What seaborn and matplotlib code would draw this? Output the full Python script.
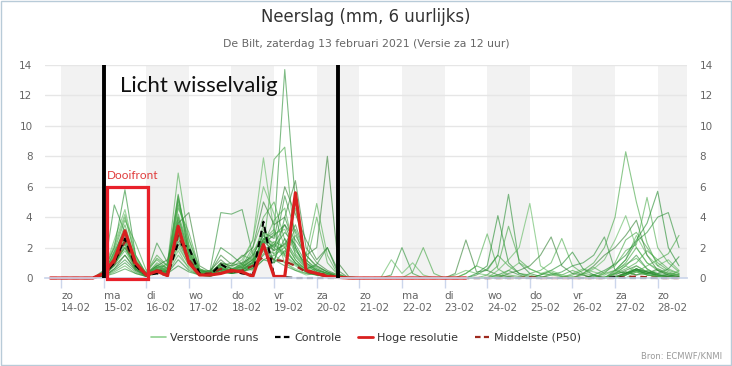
# plot.py
# Neerslag pluim De Bilt (ECMWF ensemble), 6-uurlijks

import pandas as pd
import numpy as np
import matplotlib
matplotlib.use('Agg')
import matplotlib.pyplot as plt
import matplotlib.dates as mdates
from matplotlib.lines import Line2D
from matplotlib.patches import Rectangle
import seaborn as sns

# --- data -------------------------------------------------------------
# 6-hourly steps from 13-02 18:00 up to 28-02 12:00 (60 steps)
start_time = '2021-02-13 18:00'
n_steps = 60

# perturbed ensemble runs (mm per 6 h)
members = [
    [0, 0,0,0,0, 0.1,0.8,2.2,0.6, 0.1,0.3,0.5,2.8, 1.0,0.2,0.1,0.4, 0.3,0.5,1.0,2.5, 3.0,13.7,5.0,1.0, 0.5,0.3,0.1,0, 0,0,0,0.2, 2.0,0.3,0,0, 0,0,0,0, 0,0.2,0.5,0.2, 0,0,0,0, 0,0,0.1,0, 0.3,0.8,1.5,0.6, 0.2,0.1,0],
    [0, 0,0,0,0, 0.2,1.5,3.5,1.2, 0.3,1.3,0.8,4.2, 2.0,0.5,0.3,1.0, 0.8,1.5,1.2,2.0, 7.8,8.6,2.0,0.8, 0.4,0.2,0,0, 0,0,0,0, 0,0.4,2.0,0.3, 0,0,0.3,0.8, 0.5,1.5,0.8,0.3, 0.2,0,0.3,0.2, 0.5,0.2,0,0.3, 1.0,2.5,3.0,2.0, 1.0,0.5,0.3],
    [0, 0,0,0,0, 0.4,2.5,4.5,1.5, 0.3,0.8,0.5,5.0, 1.8,0.4,0.2,0.6, 0.5,1.0,2.5,7.9, 3.0,1.0,0.5,0.2, 0.3,0.1,0,0, 0,0,0,1.2, 0.3,1.0,0.2,0, 0,0.2,0.5,0.3, 0.2,0.1,0,0, 0,0,0,0, 0.3,0.6,0.4,0.2, 0.5,1.2,2.8,1.5, 0.8,1.2,0.5],
    [0, 0,0,0,0, 0.2,1.0,2.0,0.8, 0.2,0.6,0.4,3.5, 1.2,0.3,0.5,1.2, 0.6,0.4,0.8,1.5, 2.2,3.5,2.5,1.5, 2.0,8.0,1.0,0.1, 0,0,0,0, 0,0,0,0, 0,0.3,2.5,0.4, 0.5,0.2,0.1,0, 0,0,0,0, 0,0,0,0, 0.2,0.5,0.8,0.4, 0.1,0,0],
    [0, 0,0,0,0, 0.1,0.9,2.0,0.6, 0.1,0.4,1.0,6.9, 2.5,0.6,0.3,0.8, 1.0,0.7,0.5,1.2, 1.5,2.0,1.0,0.6, 0.8,0.4,0.1,0, 0,0,0,0, 0,0,0,0, 0,0,0.3,0.8, 2.9,0.6,0.2,0.1, 0,0.2,0.4,0.1, 0,0,0,0, 0,0.2,0.6,0.3, 0.5,0.2,0.1],
    [0, 0,0,0,0, 0.5,2.0,5.8,1.5, 0.2,0.7,0.6,3.0, 1.0,0.3,0.4,2.0, 1.5,0.9,0.6,3.0, 1.0,4.0,2.0,0.6, 0.3,0.2,0.1,0, 0,0,0,0, 0,0,0,0, 0,0,0,0.3, 0.8,4.1,1.0,0.3, 0.1,0,0,0, 0,0,0,0, 0.3,0.4,0.2,0.5, 0.3,0.6,1.4],
    [0, 0,0,0,0, 0.3,4.8,3.0,1.0, 0.2,2.3,1.0,5.5, 1.5,0.4,0.5,4.3, 4.2,4.5,1.5,2.0, 1.2,0.8,0.5,0.3, 0.2,0.1,0,0, 0,0,0,0, 0,0,0,0, 0,0,0,0.2, 0.6,1.5,5.5,1.0, 0.3,0.1,0,0, 0,0,0.2,0, 0,0.3,0.5,0.2, 0.1,0,0],
    [0, 0,0,0,0, 0.2,1.8,3.8,2.3, 0.5,1.2,0.6,4.6, 3.0,0.6,0.3,0.5, 0.4,0.8,2.0,4.0, 5.0,2.5,1.2,0.5, 0.3,0.2,0,0, 0,0,0,0, 0,0,0,0, 0,0,0,0, 0.2,0.8,3.4,1.2, 0.6,0.3,0.2,0.1, 0,0,0,0, 0.4,1.0,2.0,1.0, 0.5,0.3,0.2],
    [0, 0,0,0,0, 0.2,1.2,2.5,0.7, 0.3,0.9,0.4,2.2, 0.8,0.3,0.2,0.9, 0.7,1.2,2.5,6.0, 4.2,2.0,1.0,0.4, 0.6,0.3,0.1,0, 0,0,0,0, 0,0,0,0, 0,0,0,0, 0,0.5,1.2,2.0, 4.9,0.8,0.3,0.1, 0,0,0,0, 0.1,0.3,0.8,0.4, 0.2,0.1,0.5],
    [0, 0,0,0,0, 0.1,0.6,1.5,0.5, 0.2,0.5,0.3,3.8, 1.6,0.5,0.4,1.5, 0.9,1.4,2.0,5.0, 3.5,4.0,6.4,2.0, 1.0,0.5,0.2,0, 0,0,0,0, 0,0,0,0, 0,0,0,0, 0,0,0.3,0.5, 0.8,1.5,2.7,0.8, 0.3,0.2,0,0, 0,0.4,0.2,0.3, 0.6,0.3,0.2],
    [0, 0,0,0,0, 0.3,1.6,3.0,0.9, 0.2,0.6,0.3,1.5, 0.7,0.2,0.2,0.6, 0.5,0.6,1.8,2.5, 3.2,1.5,2.8,1.5, 4.9,1.5,0.2,0, 0,0,0,0, 0,0,0,0, 0,0,0,0, 0,0.2,0.1,0, 0.3,0.5,1.0,2.6, 0.8,0.3,0.2,0.1, 0,0,0.4,0.8, 1.2,0.6,0.3],
    [0, 0,0,0,0, 0.2,1.4,2.8,0.8, 0.3,0.8,0.7,5.2, 2.2,0.5,0.3,0.7, 0.3,0.5,0.9,2.3, 2.8,3.5,1.8,0.9, 0.4,0.2,0.1,0, 0,0,0,0, 0,0,0,0, 0,0,0,0, 0,0,0,0, 0,0.2,0.5,0.9, 1.7,0.6,0.2,0, 0,0.2,0.5,0.3, 0.2,0.1,0],
    [0, 0,0,0,0, 0.1,0.5,1.0,0.4, 0.1,0.4,0.5,2.6, 1.1,0.3,0.2,0.4, 0.6,0.9,1.5,2.8, 1.8,5.4,3.0,1.2, 0.6,0.3,0.1,0, 0,0,0,0, 0,0,0,0, 0,0,0,0, 0,0,0,0, 0,0,0.2,0.4, 0.8,1.0,1.5,2.7, 0.5,0.3,0.6,0.2, 0.1,0,0],
    [0, 0,0,0,0, 0.2,0.9,1.8,0.6, 0.2,1.0,0.6,4.0, 1.8,0.4,0.3,0.8, 0.5,0.4,0.7,1.6, 2.4,2.0,3.2,1.5, 0.7,0.4,0.2,0, 0,0,0,0, 0,0,0,0, 0,0,0,0, 0,0,0,0, 0,0,0,0, 0.2,0.5,1.0,2.0, 4.0,8.3,5.0,2.3, 0.8,0.4,0.2],
    [0, 0,0,0,0, 0.4,2.2,4.2,1.3, 0.2,0.5,0.4,1.8, 0.6,0.2,0.2,0.5, 0.4,0.7,1.2,3.5, 1.5,1.0,0.6,0.3, 0.2,0.1,0,0, 0,0,0,0, 0,0,0,0, 0,0,0,0, 0,0,0,0, 0,0,0,0, 0,0.2,0.6,1.2, 2.5,4.1,2.0,1.0, 0.6,0.3,0.2],
    [0, 0,0,0,0, 0.2,1.3,2.5,0.9, 0.3,0.6,0.5,3.2, 1.4,0.3,0.3,1.0, 0.8,1.0,1.4,3.0, 2.6,6.0,4.2,2.5, 1.2,2.0,0.5,0, 0,0,0,0, 0,0,0,0, 0,0,0,0, 0,0,0,0, 0,0,0,0, 0,0.3,0.8,1.5, 2.0,2.8,3.8,1.5, 0.5,0.2,0.1],
    [0, 0,0,0,0, 0.1,0.4,0.8,0.3, 0.1,0.7,0.9,4.8, 2.6,0.6,0.4,0.9, 0.6,0.8,1.0,2.2, 3.8,4.6,1.5,0.7, 0.3,0.2,0.1,0, 0,0,0,0, 0,0,0,0, 0,0,0,0, 0,0,0,0, 0,0,0,0, 0,0,0,0.4, 0.8,1.8,2.2,5.3, 2.0,1.0,0.4],
    [0, 0,0,0,0, 0.3,1.7,3.2,1.1, 0.2,0.4,0.3,1.2, 0.5,0.2,0.1,0.4, 0.3,0.4,0.8,1.8, 1.2,2.6,1.4,0.6, 0.9,2.0,0.3,0, 0,0,0,0, 0,0,0,0, 0,0,0,0, 0,0,0,0, 0,0,0,0, 0,0,0.2,0.5, 0.9,1.5,2.5,3.6, 5.7,2.0,0.8],
    [0, 0,0,0,0, 0.1,0.6,1.2,0.5, 0.1,0.5,0.4,3.0, 1.3,0.3,0.2,0.6, 0.4,0.6,1.0,2.6, 2.0,3.0,2.2,1.0, 0.5,0.3,0.1,0, 0,0,0,0, 0,0,0,0, 0,0,0,0, 0,0,0,0, 0,0,0,0, 0,0,0,0, 0.5,1.2,2.4,3.0, 4.0,4.3,2.0],
    [0, 0,0,0,0, 0.2,1.2,2.6,0.9, 0.4,1.5,0.8,5.4, 2.0,0.5,0.3,0.7, 0.5,0.8,1.2,2.0, 1.6,2.3,1.2,0.5, 0.3,0.2,0,0, 0,0,0,0, 0,0,0,0, 0,0,0,0, 0,0,0,0, 0,0,0,0, 0,0,0,0, 0.3,0.6,1.0,1.8, 1.2,1.6,2.8],
    [0, 0,0,0,0, 0.3,1.6,3.0,1.0, 0.2,0.5,0.6,2.0, 0.9,0.3,0.2,0.5, 0.4,0.5,1.6,3.2, 2.0,1.4,0.8,0.4, 0.3,0.2,0.1,0, 0,0,0,0, 0,0,0,0, 0,0,0,0, 0,0,0.5,1.0, 0.6,0.3,0.5,0.2, 0.1,0,0,0, 0.3,0.8,0.4,0.2, 0.1,0,0],
    [0, 0,0,0,0, 0.2,0.8,1.5,0.6, 0.2,0.8,1.2,3.6, 4.3,0.8,0.4,0.9, 0.6,0.7,1.2,2.4, 1.8,2.2,3.5,1.5, 0.8,0.4,0.1,0, 0,0,0,0, 0,0,0,0, 0,0,0,0, 0,0,0,0, 0,0,0,0, 0,0,0,0, 0.1,0.3,0.6,0.4, 0.2,0.1,0],
    [0, 0,0,0,0, 0.4,2.0,4.0,1.4, 0.3,0.6,0.5,3.6, 1.5,0.4,0.3,0.8, 0.5,0.9,1.3,2.2, 2.9,3.2,1.6,0.8, 4.0,1.0,0.2,0, 0,0,0,0, 0,0,0,0, 0,0,0,0, 0,0,0,0, 0,0,0,0, 0,0.3,0.7,0.3, 0.5,0.9,1.3,0.6, 0.2,0.1,0],
    [0, 0,0,0,0, 0.2,1.1,2.3,0.7, 0.2,0.4,0.3,0.8, 0.4,0.2,0.2,0.5, 0.3,0.4,0.6,1.2, 1.0,1.8,1.0,0.4, 0.2,0.1,0,0, 0,0,0,0, 0,0,0,0, 0,0,0,0, 0,0,0,0, 0,0,0,0, 0,0,0,0, 0,0.3,0.6,0.4, 0.3,0.2,0.1],
    [0, 0,0,0,0, 0.1,0.3,0.6,0.3, 0.1,0.5,0.4,2.4, 1.0,0.3,0.2,0.6, 0.4,0.5,1.1,1.9, 2.2,1.5,0.9,0.4, 0.2,0.1,0,0, 0,0,0,0, 0,0,0,0, 0,0,0,0, 0,0,0,0, 0,0,0,0, 0,0,0,0, 0,0.2,0.5,0.3, 0.2,0.1,0],
    [0, 0,0,0,0, 0.2,1.0,2.0,0.8, 0.3,0.7,0.5,4.0, 1.7,0.4,0.3,0.7, 0.5,0.6,1.0,2.6, 2.3,1.6,4.6,1.2, 0.5,0.3,0.1,0, 0,0,0,0, 0,0,0,0, 0,0,0,0, 0,0,0,0, 0,0,0,0, 0,0,0,0, 0,0.2,0.4,0.2, 0.1,0,0],
]

# control run (black dashed)
control = [0, 0,0,0,0, 0.2,1.0,2.6,0.8, 0.2,0.3,0.2,2.3, 2.0,0.3,0.2,0.9, 0.5,0.3,0.2,3.7, 0.1,0.05,0,0,
           0,0,0,0, 0,0,0,0, 0,0,0,0, 0,0,0,0, 0,0,0,0, 0,0,0,0, 0,0,0,0, 0.05,0,0,0, 0,0,0]

# high resolution run (red), runs to 23-02 12:00
hires = [0, 0,0,0,0, 0.3,1.2,3.1,1.0, 0.2,0.45,0.15,3.4, 1.0,0.2,0.2,0.3, 0.5,0.4,0.1,2.2, 0.1,0.1,5.6,0.5,
         0.3,0.1,0.05,0, 0,0,0,0, 0,0,0,0, 0,0,0]

# ensemble median P50 (dark red dashed)
median = [0, 0,0,0,0, 0.2,1.0,2.4,0.8, 0.2,0.5,0.4,2.8, 1.2,0.3,0.3,0.6, 0.4,0.5,0.8,1.4, 1.2,1.1,0.8,0.4,
          0.3,0.2,0.05,0, 0,0,0,0, 0,0,0,0, 0,0,0,0, 0,0,0,0, 0.05,0,0,0, 0,0,0,0, 0,0.05,0.1,0.05, 0,0,0]

day_names = ['zo', 'ma', 'di', 'wo', 'do', 'vr', 'za',
             'zo', 'ma', 'di', 'wo', 'do', 'vr', 'za', 'zo']

for m in members:
    assert len(m) == n_steps, len(m)
assert len(control) == n_steps and len(median) == n_steps and len(hires) == 40

# --- frames -----------------------------------------------------------
times = pd.date_range(start_time, periods=n_steps, freq='6h')
ens = pd.DataFrame({
    'time': np.tile(times, len(members)),
    'mm': np.concatenate(members),
    'member': np.repeat(np.arange(len(members)), n_steps),
})
ctrl_df = pd.DataFrame({'time': times, 'mm': control})
med_df = pd.DataFrame({'time': times, 'mm': median})
hres_df = pd.DataFrame({'time': times[:len(hires)], 'mm': hires})

# --- style ------------------------------------------------------------
sns.set_theme(style='white')
plt.rcParams['font.family'] = ['DejaVu Sans']

GREENS = ['#2a8f34', '#3fa43f', '#5cb85c', '#2f7f2f', '#4aab4a', '#1f8a2a']
C_CTRL = '#000000'
C_HRES = '#d9201f'
C_MED = '#9e2a1e'
GRAY_TXT = '#666666'

fig = plt.figure(figsize=(7.32, 3.66), dpi=100)
ax = fig.add_axes([0.0615, 0.2404, 0.877, 0.582])

# alternating day shading
days = pd.date_range('2021-02-14', '2021-02-28', freq='D')
for d in days[::2]:
    ax.axvspan(d, d + pd.Timedelta(days=1), color='#f2f2f2', zorder=0, lw=0)

palette = [GREENS[i % len(GREENS)] for i in range(len(members))]
sns.lineplot(data=ens, x='time', y='mm', hue='member', palette=palette,
             units='member', estimator=None, legend=False,
             lw=0.8, alpha=0.6, ax=ax, clip_on=False)
sns.lineplot(data=med_df, x='time', y='mm', color=C_MED, lw=1.6,
             linestyle=(0, (3, 2)), ax=ax, clip_on=False)
sns.lineplot(data=ctrl_df, x='time', y='mm', color=C_CTRL, lw=1.5,
             linestyle=(0, (3, 2)), ax=ax, clip_on=False)
sns.lineplot(data=hres_df, x='time', y='mm', color=C_HRES, lw=2.3,
             ax=ax, clip_on=False)

# period markers
period_edges = [pd.Timestamp('2021-02-15 00:00'), pd.Timestamp('2021-02-20 12:00')]
ax.vlines(period_edges, 0, 14, color='black', lw=2.8, zorder=6, clip_on=False)
ax.text(0.117, 0.90, 'Licht wisselvalig', transform=ax.transAxes,
        fontsize=16, family='Lato', color='#111111', va='center', ha='left')

# "Dooifront" box
x0 = mdates.date2num(pd.Timestamp('2021-02-15 02:00'))
x1 = mdates.date2num(pd.Timestamp('2021-02-16 01:00'))
ax.add_patch(Rectangle((x0, -0.05), x1 - x0, 6.05, fill=False,
                       edgecolor='#e8202a', lw=2.3, zorder=7, clip_on=False))
ax.text(x0, 6.35, 'Dooifront', color='#e03c3c', fontsize=8.5, family='Lato',
        ha='left', va='bottom')

# axes
ax.set_xlim(pd.Timestamp('2021-02-13 15:00'), pd.Timestamp('2021-02-28 16:30'))
ax.set_ylim(0, 14)
ax.set_yticks(range(0, 15, 2))
ax.yaxis.grid(True, color='#e6e6e6', lw=1)
ax.xaxis.grid(False)
ax.set_axisbelow(True)
ax.set_xlabel('')
ax.set_ylabel('')
for s in ['top', 'left', 'right']:
    ax.spines[s].set_visible(False)
ax.spines['bottom'].set_color('#ccd6eb')

ax.set_xticks(days)
ax.set_xticklabels([f'{n}\n{d:%d-%m}' for n, d in zip(day_names, days)],
                   linespacing=1.35)
for lab in ax.get_xticklabels():
    lab.set_horizontalalignment('left')
ax.tick_params(axis='x', length=7, width=1, color='#ccd6eb', pad=2,
               labelsize=7.5, labelcolor=GRAY_TXT, bottom=True)
ax.tick_params(axis='y', length=0, pad=9, labelsize=7.5, labelcolor=GRAY_TXT)

ax2 = ax.twinx()
ax2.set_ylim(0, 14)
ax2.set_yticks(range(0, 15, 2))
ax2.tick_params(axis='y', length=0, pad=9, labelsize=7.5, labelcolor=GRAY_TXT)
ax2.grid(False)
for s in ax2.spines.values():
    s.set_visible(False)

# titles
fig.text(0.5, 1 - 17 / 366, 'Neerslag (mm, 6 uurlijks)', ha='center', va='center',
         fontsize=11.9, color='#333333')
fig.text(0.5, 1 - 44 / 366, 'De Bilt, zaterdag 13 februari 2021 (Versie za 12 uur)',
         ha='center', va='center', fontsize=7.8, color=GRAY_TXT)
fig.text(1 - 10 / 732, 1 - 356 / 366, 'Bron: ECMWF/KNMI', ha='right', va='center',
         fontsize=6, color='#999999')

# legend
handles = [
    Line2D([], [], color='#8fd18f', lw=1.2),
    Line2D([], [], color=C_CTRL, lw=1.6, linestyle=(0, (2.5, 1.5))),
    Line2D([], [], color=C_HRES, lw=2.0),
    Line2D([], [], color=C_MED, lw=1.6, linestyle=(0, (2.5, 1.5))),
]
labels = ['Verstoorde runs', 'Controle', 'Hoge resolutie', 'Middelste (P50)']
leg = fig.legend(handles, labels, loc='center', bbox_to_anchor=(0.5, 1 - 338 / 366),
                 ncol=4, frameon=False, fontsize=8, handlelength=1.3,
                 columnspacing=1.5, handletextpad=0.4)
for t in leg.get_texts():
    t.set_color('#333333')

# light frame around the picture
fig.patches.append(Rectangle((0.001, 0.002), 0.997, 0.995, transform=fig.transFigure,
                             fill=False, edgecolor='#b8cbd8', lw=1))

plt.savefig('out.png', dpi=100)
